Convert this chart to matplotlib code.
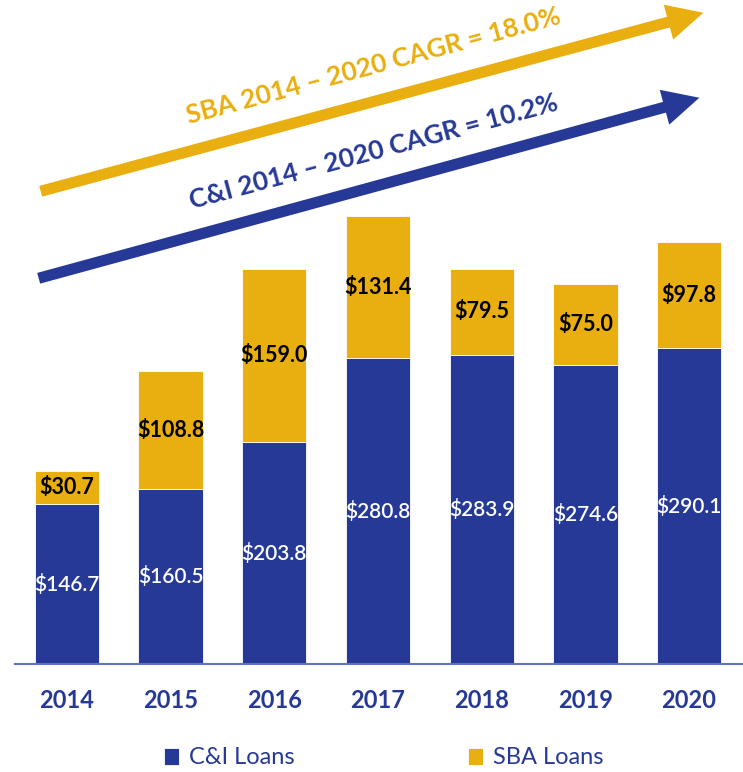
import matplotlib
matplotlib.use("Agg")
import math
import matplotlib.pyplot as plt
from matplotlib.patches import FancyArrowPatch

plt.rcParams['font.family'] = ['Lato', 'DejaVu Sans']

years = ["2014", "2015", "2016", "2017", "2018", "2019", "2020"]
ci_loans = [146.7, 160.5, 203.8, 280.8, 283.9, 274.6, 290.1]
sba_loans = [30.7, 108.8, 159.0, 131.4, 79.5, 75.0, 97.8]
series_names = ["C&I Loans", "SBA Loans"]
sba_cagr_text = "SBA 2014 \u2013 2020 CAGR = 18.0%"
ci_cagr_text = "C&I 2014 \u2013 2020 CAGR = 10.2%"

BLUE = "#263996"
GOLD = "#E9AF10"
AXIS = "#6272BC"

W, H = 743, 772
fig = plt.figure(figsize=(W / 100, H / 100), dpi=100)

ax = fig.add_axes([15 / W, (H - 664) / H, (W - 15) / W, 664 / H])
x = list(range(len(years)))
bw = 0.62
ax.bar(x, ci_loans, width=bw, color=BLUE, edgecolor="white", linewidth=0.6, label=series_names[0])
ax.bar(x, sba_loans, width=bw, bottom=ci_loans, color=GOLD, edgecolor="white", linewidth=0.6, label=series_names[1])

for i in x:
    ax.text(i, ci_loans[i] / 2, f"${ci_loans[i]:.1f}", ha="center", va="center",
            color="white", fontsize=15, fontweight="semibold")
    ax.text(i, ci_loans[i] + sba_loans[i] / 2, f"${sba_loans[i]:.1f}", ha="center", va="center",
            color="black", fontsize=15.5, fontweight="bold")

ax.set_xlim(-0.5, 6.52)
ax.set_ylim(0, 664 / 1.088)
for s in ["top", "right", "left"]:
    ax.spines[s].set_visible(False)
ax.spines["bottom"].set_color(AXIS)
ax.spines["bottom"].set_linewidth(1.5)
ax.set_yticks([])
ax.set_xticks(x)
ax.set_xticklabels(years, fontsize=17, fontweight="bold", color=BLUE)
ax.tick_params(axis="x", length=0, pad=18)


def px(xp, yp):
    return xp / W, (H - yp) / H


def arrow(x0, y0, x1, y1, color):
    fig.add_artist(FancyArrowPatch(
        px(x0, y0), px(x1, y1), transform=fig.transFigure,
        arrowstyle="simple,head_length=2.6,head_width=2.6,tail_width=0.8",
        mutation_scale=10, color=color, lw=0))


arrow(38, 192, 706, 12, GOLD)
arrow(36, 279, 702, 97, BLUE)

ang = math.degrees(math.atan2(180, 668))
fig.text(*px(374, 66), sba_cagr_text, rotation=ang, rotation_mode="anchor", ha="center", va="center",
         color=GOLD, fontsize=19, fontweight="bold")
fig.text(*px(374, 152), ci_cagr_text, rotation=ang, rotation_mode="anchor", ha="center", va="center",
         color=BLUE, fontsize=19, fontweight="bold")

leg = fig.legend(loc="center", bbox_to_anchor=(0.5 + 12 / W, (H - 758) / H), ncol=2, frameon=False,
                 fontsize=17, handlelength=0.65, handleheight=0.75, columnspacing=7.35, handletextpad=0.4)
for t in leg.get_texts():
    t.set_color(BLUE)

fig.savefig("out.png", dpi=100)
